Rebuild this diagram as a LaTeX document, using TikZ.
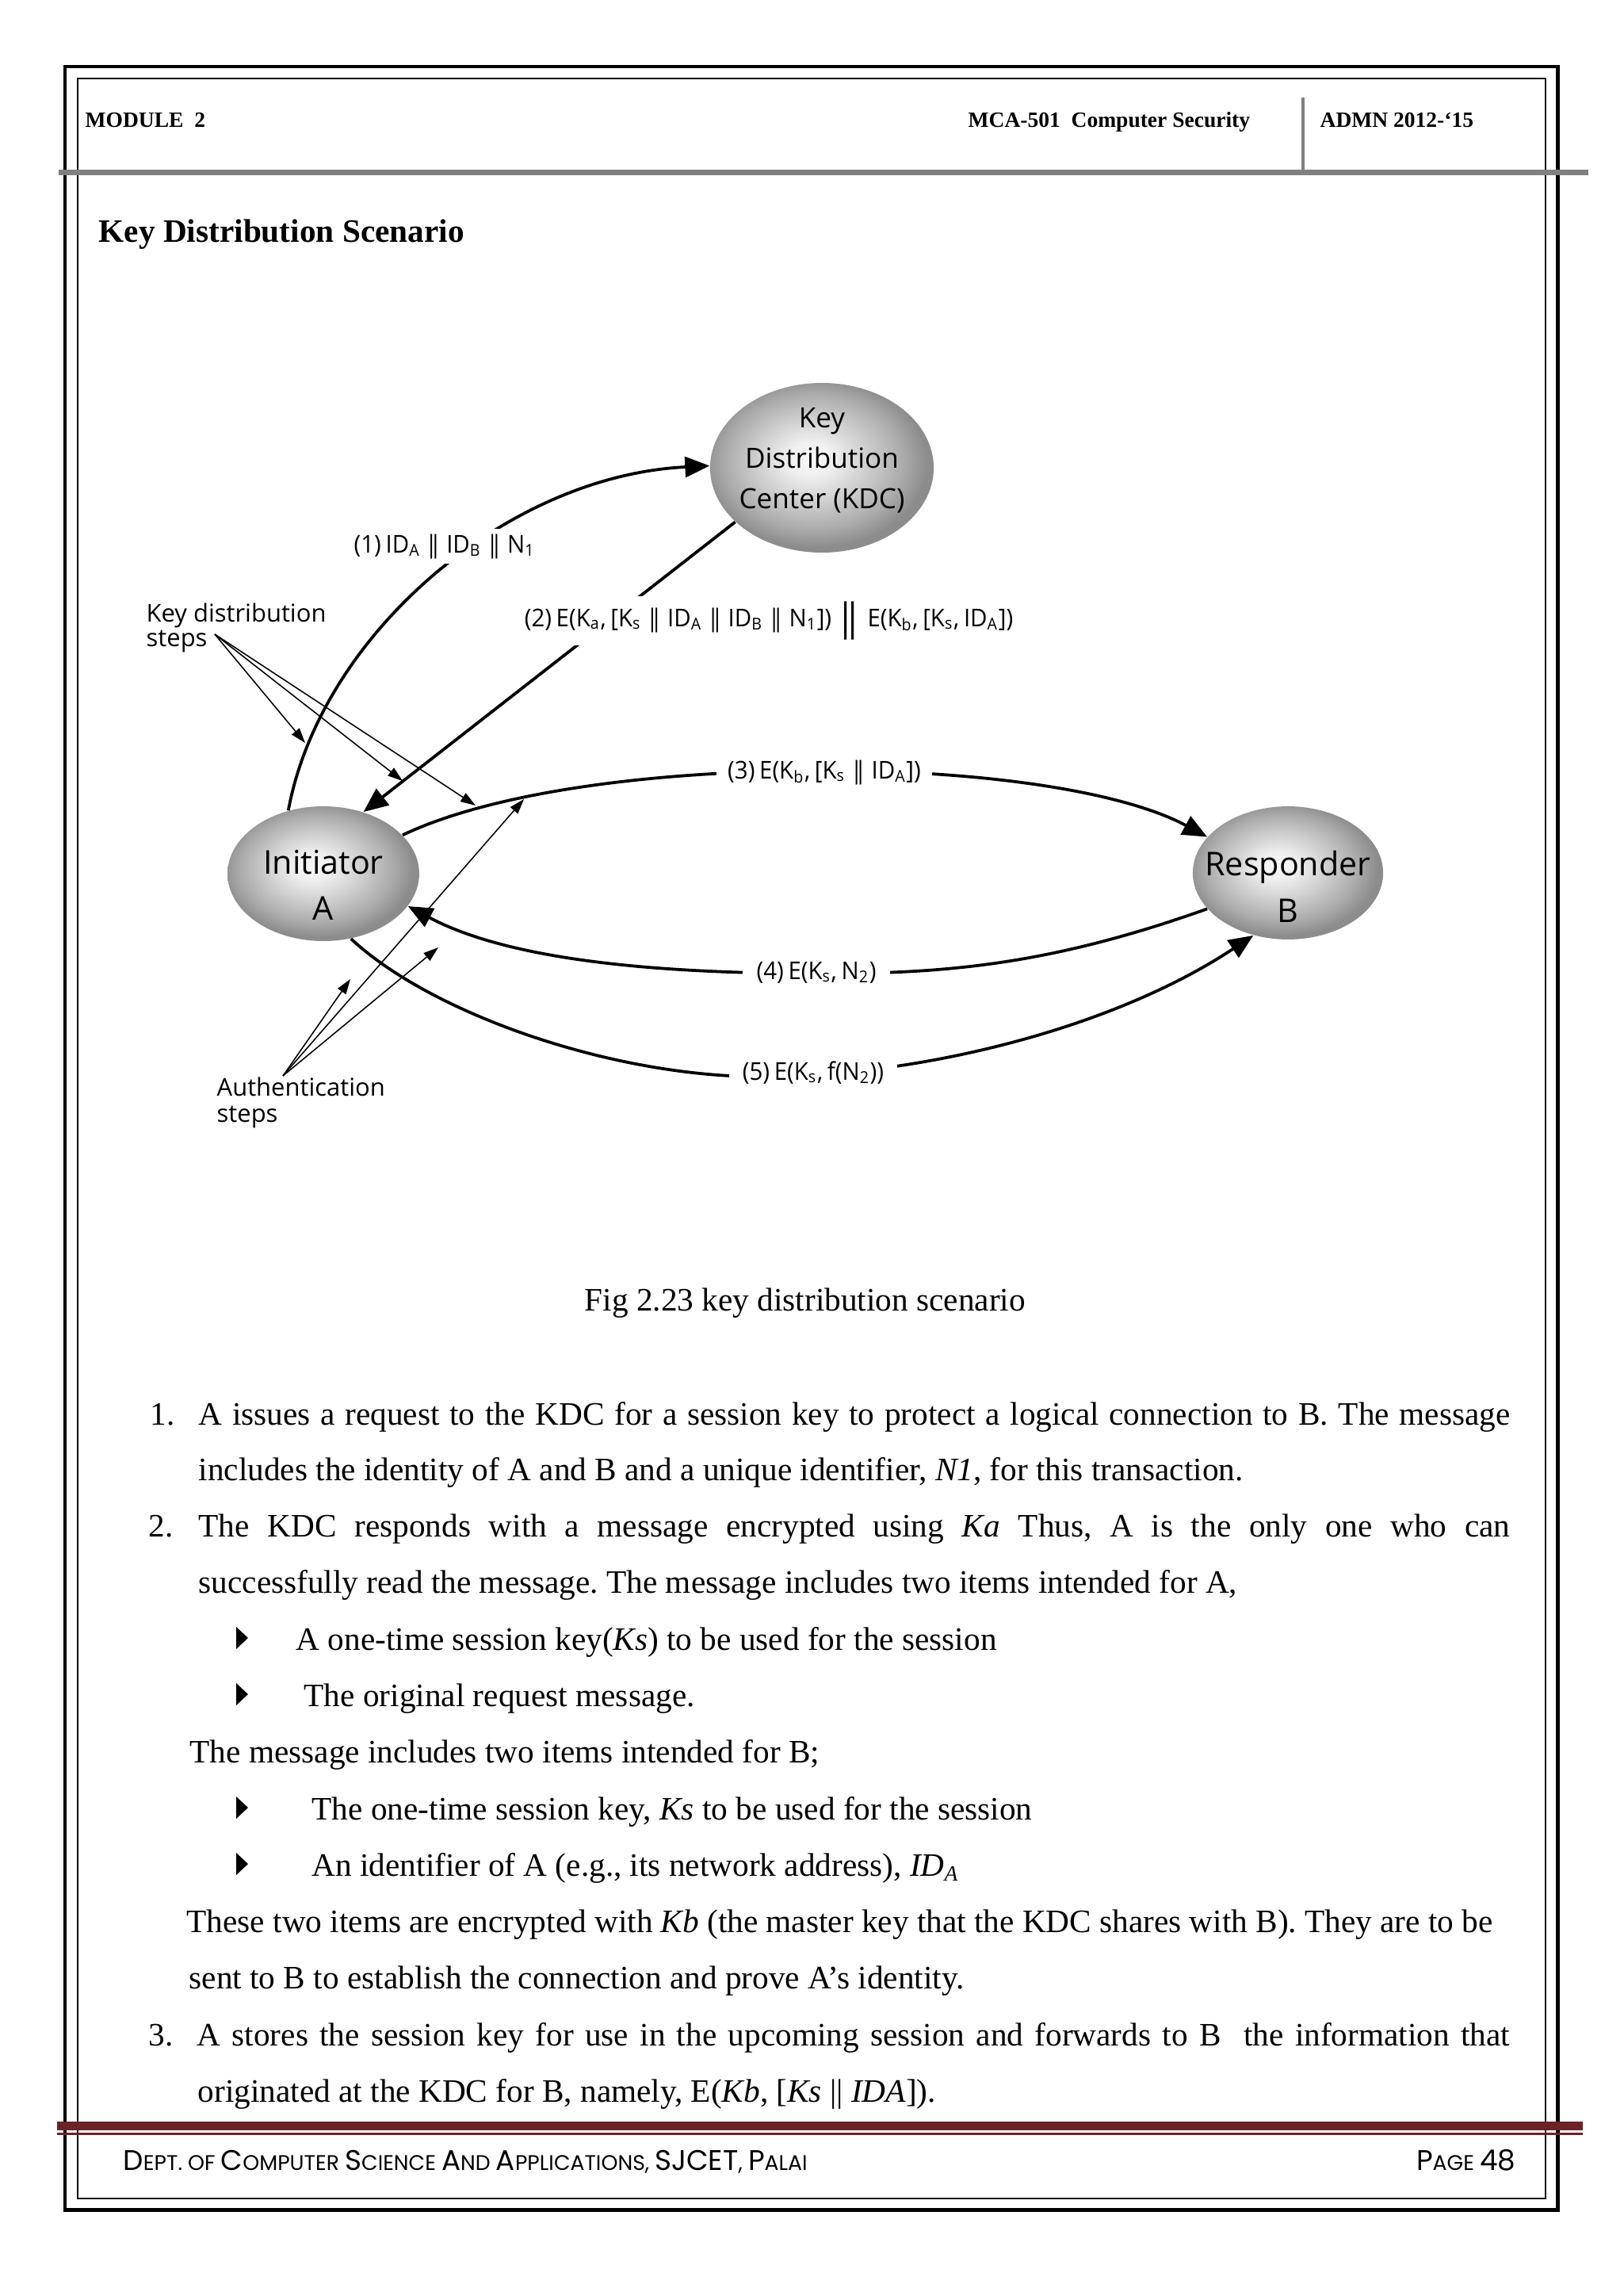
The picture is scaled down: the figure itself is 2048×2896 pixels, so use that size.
\documentclass[tikz,border=0pt]{standalone}
\usepackage{fontspec}
\setmainfont{Liberation Serif}
\newfontfamily\figf{Open Sans}
\newfontfamily\figl[FakeStretch=0.95,WordSpace=0.75]{Open Sans}
\newfontfamily\footf{Poppins}
\usetikzlibrary{arrows.meta,shapes.geometric}
\pgfdeclareradialshading{egg}{\pgfpoint{-3bp}{3bp}}{color(0bp)=(white!97!black); color(5bp)=(white!94!black); color(13bp)=(black!20); color(20bp)=(black!33); color(25bp)=(black!45); color(50bp)=(black!48)}
\definecolor{maroon}{RGB}{107,35,38}
\definecolor{hgray}{RGB}{128,128,128}
\newcommand\jl[2]{\makebox[#1][s]{#2}}
\newcommand\bigc[1]{{\fontsize{10.4}{11}\selectfont #1}}
\newcommand\dbar{|\kern-3.2pt|}
\newcommand\Dbar{\raisebox{-1.5pt}{\fontsize{14}{14}\selectfont|\kern-4.8pt|}}
\begin{document}
\frenchspacing
\begin{tikzpicture}[x=0.29066pt,y=-0.29066pt,
  egg/.style={ellipse, draw=none, shade, shading=egg, inner sep=0pt},
  ntext/.style={font=\figf\fontsize{12}{17}\selectfont, align=center, inner sep=0pt},
  ktext/.style={font=\figf\fontsize{10.2}{14.8}\selectfont, align=center, inner sep=0pt},
  lbl/.style={font=\figl\fontsize{9}{10}\selectfont, fill=white, inner xsep=4pt, inner ysep=2pt, anchor=base},
  side/.style={font=\figf\fontsize{9}{10}\selectfont, inner sep=0pt, anchor=base west},
  bigarr/.style={line width=1.1pt, -{Triangle[length=9pt,width=7.5pt]}},
  smallarr/.style={line width=0.45pt, -{Triangle[length=5.5pt,width=3.6pt]}},
  hdr/.style={anchor=base west, inner sep=0pt, font=\bfseries\fontsize{8}{9}\selectfont},
  body/.style={anchor=base west, inner sep=0pt, font=\fontsize{12}{14}\selectfont},
  foot/.style={inner sep=0pt, font=\footf\fontsize{7.75}{9}\selectfont}
]
\useasboundingbox (0,0) rectangle (2048,2896);
\fill[white] (0,0) rectangle (2048,2896);

% frames
\draw[line width=1.45pt] (82,84) rectangle (1965,2787);
\draw[line width=0.75pt] (98,99) rectangle (1950,2773);

% header
\draw[hgray, line width=2pt] (74,217.5) -- (2004,217.5);
\draw[hgray, line width=1.2pt] (1644,123) -- (1644,214);
\node[hdr] (h1) at (107,160) {MODULE\ \ 2};
\node[hdr] (h2) at (1221,160) {MCA-501\ \ Computer Security};
\node[hdr] (h3) at (1665,160) {ADMN 2012-‘15};

\node[anchor=base west, inner sep=0pt, font=\bfseries\fontsize{12}{14}\selectfont] (title) at (124,305) {Key Distribution Scenario};

% diagram nodes
\node[egg, minimum width=82pt, minimum height=62.2pt] (KDC) at (1037,590) {};
\node[ktext] (KDCt) at (1037,581) {Key\\Distribution\\Center (KDC)};
\node[egg, minimum width=70.3pt, minimum height=49.4pt] (A) at (408,1102) {};
\node[ntext] (At) at (408,1116.5) {Initiator\\A};
\node[egg, minimum width=69.8pt, minimum height=48.8pt] (B) at (1625,1101) {};
\node[ntext] (Bt) at (1625,1118.5) {Responder\\B};

% main connectors
\draw[bigarr] (A.119) .. controls (405,800) and (640,600) .. (KDC.179);
\draw[bigarr] (KDC.212) -- (A.57);
\draw[bigarr] (A.26) .. controls (620,1000) and (820,972) .. (1040,972) .. controls (1250,972) and (1420,1000) .. (B.156);
\draw[bigarr] (B.204) .. controls (1330,1215) and (1200,1228) .. (1040,1228) .. controls (850,1228) and (650,1215) .. (A.339);
\draw[bigarr] (A.293) .. controls (540,1275) and (760,1355) .. (950,1358) .. controls (1150,1360) and (1400,1300) .. (B.241);

% labels
\node[lbl] (l1) at (561,697) {(1) ID\textsubscript{A} \dbar{} ID\textsubscript{B} \dbar{} N\textsubscript{1}};
\node[lbl] (l2) at (970,790) {(2) E(K\textsubscript{a}, [K\textsubscript{s} \dbar{} ID\textsubscript{A} \dbar{} ID\textsubscript{B} \dbar{} N\textsubscript{1}]) \Dbar{} E(K\textsubscript{b}, [K\textsubscript{s}, ID\textsubscript{A}])};
\node[lbl] (l3) at (1040,982) {(3) E(K\textsubscript{b}, [K\textsubscript{s} \dbar{} ID\textsubscript{A}])};
\node[lbl, inner xsep=5pt] (l4) at (1030,1235) {(4) E(K\textsubscript{s}, N\textsubscript{2})};
\node[lbl, inner xsep=5pt] (l5) at (1026,1362) {(5) E(K\textsubscript{s}, f(N\textsubscript{2}))};

% side notes
\node[side] (kd1) at (184,784) {Key distribution};
\node[side] (kd2) at (184,815) {steps};
\node[side] (au1) at (273,1382) {Authentication};
\node[side] (au2) at (273,1415) {steps};

\coordinate (kds) at (271,800);
\coordinate (k1) at (385,937);
\coordinate (k2) at (508,985);
\coordinate (k3) at (600,1016);
\draw[smallarr] (kds) -- (k1);
\draw[smallarr] (kds) -- (k2);
\draw[smallarr] (kds) -- (k3);

\coordinate (aus) at (357,1357);
\coordinate (a1) at (442,1235);
\coordinate (a2) at (553,1195);
\coordinate (a3) at (661,1008);
\draw[smallarr] (aus) -- (a1);
\draw[smallarr] (aus) -- (a2);
\draw[smallarr] (aus) -- (a3);

% caption
\node[body] (cap) at (737,1653) {Fig 2.23 key distribution scenario};

% body text
\node[body] (n1) at (189,1797) {1.};
\node[body] (t1) at (250,1797) {\jl{481pt}{A issues a request to the KDC for a session key to protect a logical connection to B. The message}};
\node[body] (t2) at (250,1867) {includes the identity of A and B and a unique identifier, \textit{N1}, for this transaction.};
\node[body] (n2) at (187,1938) {2.};
\node[body] (t3) at (250,1938) {\jl{481pt}{The KDC responds with a message encrypted using \textit{Ka} Thus, A is the only one who can}};
\node[body] (t4) at (250,2009) {successfully read the message. The message includes two items intended for A,};
\node[body] (t5) at (373,2081) {A one-time session key(\textit{Ks}) to be used for the session};
\node[body] (t6) at (383,2152) {The original request message.};
\node[body] (t7) at (239,2223) {The message includes two items intended for B;};
\node[body] (t8) at (393,2295) {The one-time session key, \textit{Ks} to be used for the session};
\node[body] (t9) at (393,2366) {An identifier of A (e.g., its network address), \textit{ID\textsubscript{A}}};
\node[body] (t10) at (235,2437) {\jl{479pt}{These two items are encrypted with \textit{Kb} (the master key that the KDC shares with B). They are to be}};
\node[body] (t11) at (238,2508) {sent to B to establish the connection and prove A's identity.};
\node[body] (n3) at (187,2580) {3.};
\node[body] (t12) at (248,2580) {\jl{481.5pt}{A stores the session key for use in the upcoming session and forwards to B\ \ the information that}};
\node[body] (t13) at (249,2651) {originated at the KDC for B, namely, E(\textit{Kb}, [\textit{Ks} || \textit{IDA}]).};

% bullets
\foreach \yy in {2081,2152,2295,2366} {
  \fill (298,{\yy-29}) -- (313,{\yy-15}) -- (298,{\yy-1}) -- cycle;
}

% footer
\fill[maroon] (72,2676) rectangle (1997,2687);
\fill[maroon] (72,2690) rectangle (1997,2692.5);
\node[foot, anchor=base west] (f1) at (155,2737) {\bigc{D}EPT. OF \bigc{C}OMPUTER \bigc{S}CIENCE \bigc{A}ND \bigc{A}PPLICATIONS, \bigc{SJCET}, \bigc{P}ALAI};
\node[foot, anchor=base east] (f2) at (1913,2737) {\bigc{P}AGE \bigc{48}};
\end{tikzpicture}
\end{document}
